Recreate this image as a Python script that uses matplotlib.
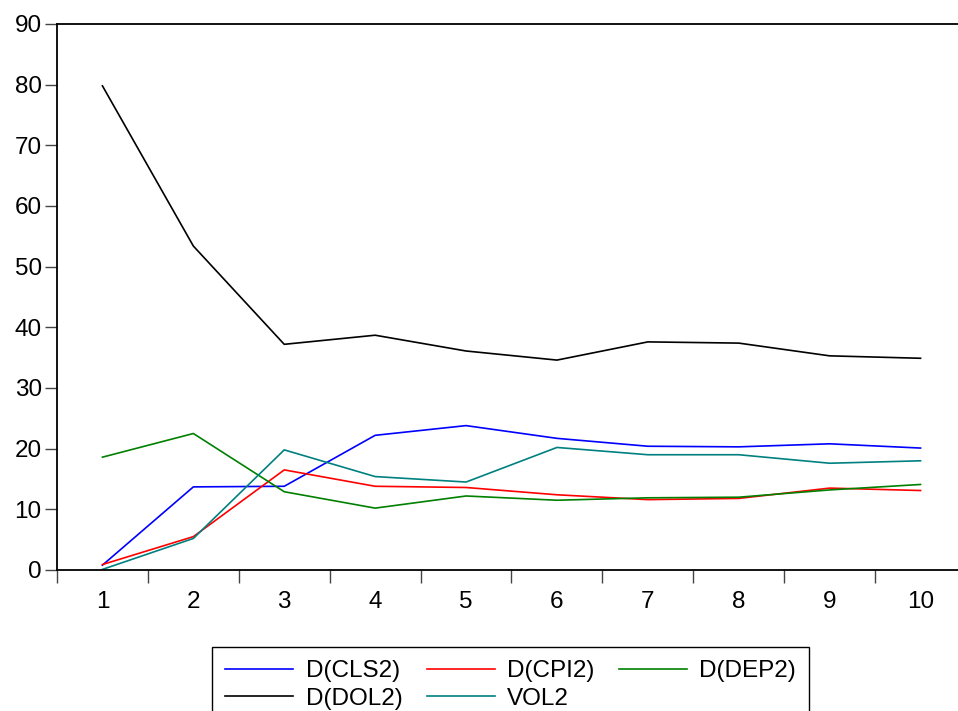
import matplotlib
matplotlib.use("Agg")
import matplotlib.pyplot as plt
import numpy as np

# forecast horizons and the response of each series
periods = [1, 2, 3, 4, 5, 6, 7, 8, 9, 10]
cls2 = [0.8, 13.7, 13.8, 22.2, 23.8, 21.7, 20.4, 20.3, 20.8, 20.1]
cpi2 = [0.9, 5.5, 16.5, 13.8, 13.6, 12.4, 11.6, 11.8, 13.5, 13.1]
dep2 = [18.6, 22.5, 12.9, 10.2, 12.2, 11.5, 11.9, 12.0, 13.2, 14.1]
dol2 = [79.8, 53.4, 37.2, 38.7, 36.1, 34.6, 37.6, 37.4, 35.3, 34.9]
vol2 = [0.1, 5.2, 19.8, 15.4, 14.5, 20.2, 19.0, 19.0, 17.6, 18.0]

series = [
    ("D(CLS2)", cls2, "#0000ff"),
    ("D(CPI2)", cpi2, "#ff0000"),
    ("D(DEP2)", dep2, "#008000"),
    ("D(DOL2)", dol2, "#000000"),
    ("VOL2", vol2, "#008080"),
]

plt.rcParams['font.family'] = ['Liberation Sans', 'DejaVu Sans']
plt.rcParams['font.size'] = 17.5

W, H = 958, 711
fig = plt.figure(figsize=(W / 100, H / 100), dpi=100)
ax = fig.add_axes([57 / W, 141 / H, 909 / W, 546 / H])

lines = {}
for name, vals, col in series:
    lines[name], = ax.plot(periods, vals, color=col, lw=1.2, label=name)

ax.set_xlim(0.5, 10.5)
ax.set_ylim(0, 90)
ax.set_yticks(np.arange(0, 91, 10))
ax.set_xticks(periods)
ax.set_xticks(np.arange(0.5, 11, 1), minor=True)
ax.tick_params(axis='x', which='major', length=0, pad=15)
ax.tick_params(axis='x', which='minor', length=9, width=1, color='#444444', direction='out')
ax.tick_params(axis='y', length=9, width=1, pad=2, color='#444444')
for s in ax.spines.values():
    s.set_linewidth(1.3)
ax.spines['right'].set_visible(False)

# legend fills column by column, so order the entries to read across rows
order = ["D(CLS2)", "D(DOL2)", "D(CPI2)", "VOL2", "D(DEP2)"]
fig.legend([lines[k] for k in order], order,
           loc='upper left', bbox_to_anchor=(212 / W, 1 - 647 / H), ncol=3,
           frameon=True, fancybox=False, edgecolor='black', framealpha=1,
           handlelength=2.8, handletextpad=0.5, columnspacing=1.0,
           labelspacing=0.22, borderpad=0.55, borderaxespad=0)

fig.savefig("out.png", dpi=100)
